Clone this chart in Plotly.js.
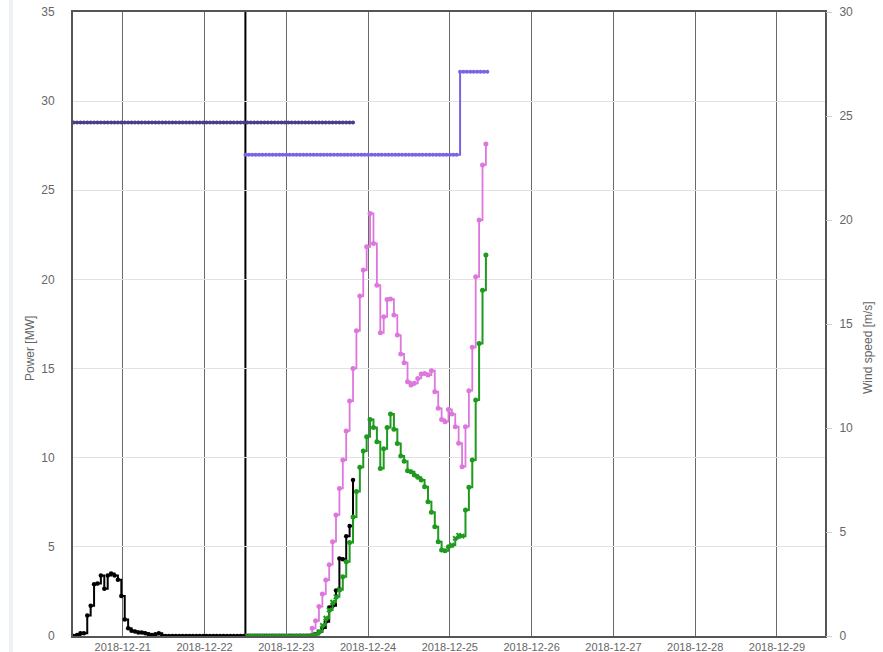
<!DOCTYPE html>
<html>
<head>
<meta charset="utf-8">
<script src="https://cdn.plot.ly/plotly-3.0.1.min.js"></script>
<style>
  html, body { margin: 0; padding: 0; background: #ffffff; }
  #strip { position: absolute; left: 9px; top: 0; width: 4px; height: 652px; background: #eef2f6; z-index: 5; }
  #chart { width: 883px; height: 652px; }
</style>
</head>
<body>
<div id="strip"></div>
<div id="chart"></div>
<script>
// ---------------- DATA ----------------
// Hourly series; first timestamp of each series
const actualStart   = '2018-12-20T09:35:00Z';
const forecastStart = '2018-12-22T12:35:00Z';
const availStart    = '2018-12-22T12:00:00Z';
const forecastIssue = '2018-12-22 12:00';   // thick black vertical marker

const xTickLabels = ['2018-12-21','2018-12-22','2018-12-23','2018-12-24','2018-12-25','2018-12-26','2018-12-27','2018-12-28','2018-12-29'];
const xRange = ['2018-12-20 09:24', '2018-12-29 14:06'];

// Actual power [MW] (black)
const actualPower = [
  0, 0.05, 0.15, 0.15, 1.15, 1.7, 2.9, 2.95, 3.4, 2.65,
  3.4, 3.5, 3.4, 3.15, 2.25, 0.93, 0.43, 0.3, 0.25, 0.2,
  0.2, 0.15, 0.1, 0.05, 0.1, 0.15, 0.02,
  0, 0, 0, 0, 0, 0, 0, 0, 0, 0,
  0, 0, 0, 0, 0, 0, 0, 0, 0, 0,
  0, 0, 0, 0, 0, 0, 0, 0, 0, 0,
  0, 0, 0, 0, 0, 0, 0, 0, 0, 0,
  0, 0, 0,
  0.02, 0.1, 0.24, 0.45, 0.8, 1.6, 1.7, 2.55, 4.35, 4.3,
  5.6, 6.17, 8.75
];

// Installed capacity [MW] (dark purple), same timestamps as actual power
const installedCapacity = [
  28.8, 28.8, 28.8, 28.8, 28.8, 28.8, 28.8, 28.8, 28.8, 28.8,
  28.8, 28.8, 28.8, 28.8, 28.8, 28.8, 28.8, 28.8, 28.8, 28.8,
  28.8, 28.8, 28.8, 28.8, 28.8, 28.8, 28.8, 28.8, 28.8, 28.8,
  28.8, 28.8, 28.8, 28.8, 28.8, 28.8, 28.8, 28.8, 28.8, 28.8,
  28.8, 28.8, 28.8, 28.8, 28.8, 28.8, 28.8, 28.8, 28.8, 28.8,
  28.8, 28.8, 28.8, 28.8, 28.8, 28.8, 28.8, 28.8, 28.8, 28.8,
  28.8, 28.8, 28.8, 28.8, 28.8, 28.8, 28.8, 28.8, 28.8, 28.8,
  28.8, 28.8, 28.8, 28.8, 28.8, 28.8, 28.8, 28.8, 28.8, 28.8,
  28.8, 28.8, 28.8
];

// Available capacity [MW] (light purple)
const availableCapacity = [
  27, 27, 27, 27, 27, 27, 27, 27, 27, 27,
  27, 27, 27, 27, 27, 27, 27, 27, 27, 27,
  27, 27, 27, 27, 27, 27, 27, 27, 27, 27,
  27, 27, 27, 27, 27, 27, 27, 27, 27, 27,
  27, 27, 27, 27, 27, 27, 27, 27, 27, 27,
  27, 27, 27, 27, 27, 27, 27, 27, 27, 27,
  27, 27, 27,
  31.65, 31.65, 31.65, 31.65, 31.65, 31.65, 31.65, 31.65, 31.65
];

// Forecast power, upper (pink) [MW]
const forecastHigh = [
  0, 0, 0, 0, 0, 0, 0, 0, 0, 0,
  0, 0, 0, 0, 0, 0, 0, 0, 0,
  0.43, 0.85, 1.65, 2.35, 3.14, 4.0, 5.29, 6.79, 8.28, 9.87,
  11.5, 13.18, 15.01, 17.12, 19.07, 20.53, 21.83, 23.7, 22.02, 19.68,
  17.01, 17.9, 18.88, 18.9, 18.0, 16.88, 15.82, 15.33, 14.26, 14.08,
  14.17, 14.45, 14.7, 14.73, 14.64, 14.88, 13.7, 12.77, 12.15, 12.02,
  12.71, 12.45, 11.74, 10.81, 9.5, 11.74, 13.76, 16.19, 20.15, 23.33,
  26.42, 27.6
];

// Forecast power (green) [MW]
const forecastPower = [
  0, 0, 0, 0, 0, 0, 0, 0, 0, 0,
  0, 0, 0, 0, 0, 0, 0, 0, 0,
  0.03, 0.1, 0.24, 0.6, 1.0, 1.46, 1.9, 2.2, 2.6, 3.33,
  4.17, 5.25, 6.68, 8.1, 9.46, 10.37, 11.18, 12.15, 11.7, 10.9,
  9.4, 10.5, 11.7, 12.45, 11.6, 10.8, 10.1, 9.8, 9.27, 9.21,
  9.03, 8.9, 8.75, 8.37, 7.53, 6.94, 6.13, 5.29, 4.82, 4.78,
  5.0, 5.1, 5.48, 5.65, 5.6, 7.07, 8.34, 9.87, 13.24, 16.4,
  19.4, 21.37
];

// ---------------- helpers ----------------
function hourlyTimes(startIso, n) {
  const t0 = Date.parse(startIso);
  const out = [];
  for (let i = 0; i < n; i++) {
    out.push(new Date(t0 + i * 3600000).toISOString().replace('T', ' ').slice(0, 19));
  }
  return out;
}

const tActual = hourlyTimes(actualStart, actualPower.length);
const tForecast = hourlyTimes(forecastStart, forecastPower.length);
const tAvail = hourlyTimes(availStart, availableCapacity.length);

// green marker symbols (crosses on early part and around 12-25 03:00)
const greenSymbols = forecastPower.map((v, i) => {
  const h = 60 + i;
  return (h <= 87 || (h >= 120 && h <= 123)) ? 'x' : 'circle';
});

const FONT = 'Liberation Sans, Arial, Helvetica, sans-serif';

const traces = [
  {
    name: 'Installed capacity', x: tActual, y: installedCapacity,
    type: 'scatter', mode: 'lines+markers', line: {shape: 'hv', color: '#483d8b', width: 2},
    marker: {symbol: 'circle', size: 4, color: '#483d8b'}
  },
  {
    name: 'Available capacity', x: tAvail, y: availableCapacity,
    type: 'scatter', mode: 'lines+markers', line: {shape: 'hv', color: '#7765e3', width: 2},
    marker: {symbol: 'circle', size: 4, color: '#7765e3'}
  },
  {
    name: 'Forecast (high)', x: tForecast, y: forecastHigh,
    type: 'scatter', mode: 'lines+markers', line: {shape: 'hv', color: '#dd77dd', width: 1.8},
    marker: {symbol: 'circle', size: 5, color: '#dd77dd'}
  },
  {
    name: 'Actual power', x: tActual, y: actualPower,
    type: 'scatter', mode: 'lines+markers', line: {shape: 'hv', color: '#000000', width: 2},
    marker: {symbol: 'circle', size: 4.5, color: '#000000'}
  },
  {
    name: 'Forecast power', x: tForecast, y: forecastPower,
    type: 'scatter', mode: 'lines+markers', line: {shape: 'hv', color: '#1f9a1f', width: 2},
    marker: {symbol: greenSymbols, size: 5, color: '#1f9a1f'}
  },
  {
    // invisible trace to activate the wind speed axis
    name: 'Wind speed', x: [xRange[0]], y: [null], yaxis: 'y2',
    type: 'scatter', mode: 'lines', showlegend: false, hoverinfo: 'skip'
  }
];

const layout = {
  width: 883, height: 652,
  margin: {l: 73, r: 58, t: 12, b: 16, pad: 0},
  paper_bgcolor: '#ffffff', plot_bgcolor: '#ffffff',
  showlegend: false,
  font: {family: FONT, color: '#666666', size: 12},
  xaxis: {
    type: 'date', range: xRange, automargin: false,
    tickmode: 'array', tickvals: xTickLabels, ticktext: xTickLabels,
    tickfont: {size: 11, color: '#666666'},
    showgrid: true, gridcolor: '#6a6a6a', gridwidth: 1,
    showline: true, linecolor: '#555555', linewidth: 2, mirror: true,
    ticks: '', zeroline: false
  },
  yaxis: {
    range: [0, 35], dtick: 5, tick0: 0, automargin: false,
    tickfont: {size: 12, color: '#666666'},
    showgrid: true, gridcolor: '#e2e2e2', gridwidth: 1,
    showline: true, linecolor: '#555555', linewidth: 2, mirror: true,
    ticks: '', ticklabelstandoff: 14, zeroline: false
  },
  yaxis2: {
    overlaying: 'y', side: 'right', range: [0, 30], dtick: 5, tick0: 0, automargin: false,
    tickfont: {size: 12, color: '#666666'},
    showgrid: false, showline: false, zeroline: false,
    ticks: 'outside', ticklen: 6, tickcolor: '#cccccc', tickwidth: 1, ticklabelstandoff: 5
  },
  shapes: [
    {type: 'line', xref: 'x', yref: 'paper', x0: forecastIssue, x1: forecastIssue, y0: 0, y1: 1,
     line: {color: '#000000', width: 2}, layer: 'below'}
  ],
  annotations: [
    {text: 'Power [MW]', xref: 'paper', yref: 'paper', x: -0.0572, y: 0.4615,
     textangle: -90, showarrow: false, font: {size: 12, color: '#666666', family: FONT},
     xanchor: 'center', yanchor: 'middle'},
    {text: 'Wind speed [m/s]', xref: 'paper', yref: 'paper', x: 1.0572, y: 0.4615,
     textangle: -90, showarrow: false, font: {size: 12, color: '#666666', family: FONT},
     xanchor: 'center', yanchor: 'middle'}
  ]
};

Plotly.newPlot('chart', traces, layout, {displayModeBar: false, staticPlot: true});
</script>
</body>
</html>
